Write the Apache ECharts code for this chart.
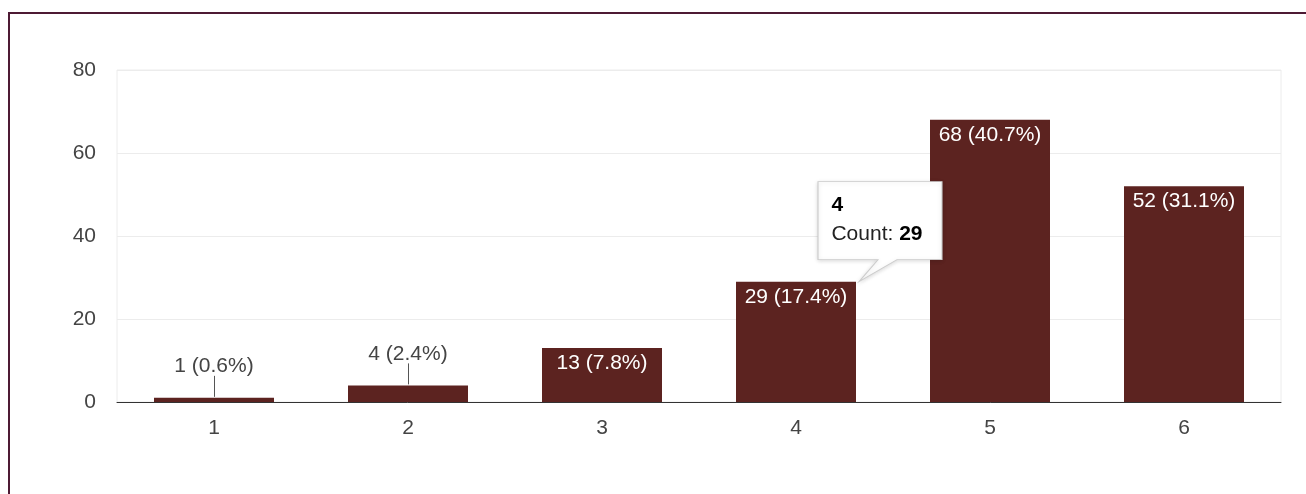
<!DOCTYPE html>
<html>
<head>
<meta charset="utf-8">
<script src="https://cdn.jsdelivr.net/npm/echarts@6/dist/echarts.min.js"></script>
<style>
  html, body { margin: 0; padding: 0; background: #fff; }
  #frame { position: absolute; left: 8px; top: 12px; width: 1298px; height: 482px;
           border-left: 2px solid #4d1a34; border-top: 2px solid #4d1a34; box-sizing: border-box; }
  #chart { position: absolute; left: 0; top: 0; width: 1306px; height: 494px; }
</style>
</head>
<body>
<div id="frame"></div>
<div id="chart"></div>
<script>
const categories = ['1', '2', '3', '4', '5', '6'];
const counts = [1, 4, 13, 29, 68, 52];
const yMin = 0;
const yMax = 80;
const yInterval = 20;
const outsideLabelCategories = ['1', '2'];
const tooltipCategory = '4';

const total = counts.reduce((a, b) => a + b, 0);
const FONT = "'Liberation Sans', Arial, sans-serif";
const BAR = '#5c2320';

const barData = counts.map((v, i) => {
  if (outsideLabelCategories.includes(categories[i])) {
    return { value: v, label: { position: 'top', color: '#444', distance: 21 } };
  }
  return v;
});
const leaderData = counts
  .map((v, i) => [i, v])
  .filter(d => outsideLabelCategories.includes(categories[d[0]]));
const tipIdx = categories.indexOf(tooltipCategory);

const chart = echarts.init(document.getElementById('chart'), null, { renderer: 'canvas' });
chart.setOption({
  animation: false,
  textStyle: { fontFamily: FONT },
  grid: { left: 117, right: 25, top: 70, bottom: 92, show: true, borderColor: '#ececec', borderWidth: 1 },
  xAxis: {
    type: 'category',
    data: categories,
    axisLine: { lineStyle: { color: '#333', width: 1 } },
    axisTick: { show: false },
    axisLabel: { color: '#444', fontSize: 21, fontFamily: FONT, margin: 16 }
  },
  yAxis: {
    type: 'value',
    min: yMin, max: yMax, interval: yInterval,
    axisLine: { show: false },
    axisTick: { show: false },
    splitLine: { lineStyle: { color: '#ececec', width: 1 } },
    axisLabel: { color: '#444', fontSize: 21, fontFamily: FONT, margin: 21 }
  },
  series: [
    {
      type: 'bar',
      data: barData,
      barWidth: 120,
      itemStyle: { color: BAR },
      label: {
        show: true,
        position: 'insideTop',
        distance: 5,
        color: '#fff',
        fontSize: 21,
        fontFamily: FONT,
        formatter: p => `${p.value} (${(p.value / total * 100).toFixed(1)}%)`
      },
      markPoint: {
        z: 20,
        symbol: 'path://M0,0 L124,0 L124,78 L79,78 L41,100 L60,78 L0,78 Z',
        symbolSize: [124, 100],
        symbolOffset: [84, -50],
        itemStyle: {
          color: '#fff', borderColor: '#cccccc', borderWidth: 1,
          shadowBlur: 4, shadowColor: 'rgba(0,0,0,0.15)', shadowOffsetY: 1
        },
        label: {
          show: true,
          position: [14, 10],
          align: 'left',
          verticalAlign: 'top',
          fontFamily: FONT,
          formatter: () => `{b|${categories[tipIdx]}}\n{n|Count: }{v|${counts[tipIdx]}}`,
          rich: {
            b: { fontSize: 21, fontWeight: 'bold', color: '#000', lineHeight: 29, fontFamily: FONT },
            n: { fontSize: 21, color: '#222', lineHeight: 29, fontFamily: FONT },
            v: { fontSize: 21, fontWeight: 'bold', color: '#000', lineHeight: 29, fontFamily: FONT }
          }
        },
        data: [{ coord: [tipIdx, counts[tipIdx]] }]
      }
    },
    {
      type: 'custom',
      data: leaderData,
      encode: { x: 0, y: 1 },
      z: 5,
      silent: true,
      renderItem: (params, api) => {
        const p = api.coord([api.value(0), api.value(1)]);
        return {
          type: 'line',
          shape: { x1: Math.round(p[0]) + 0.5, y1: p[1] - 1, x2: Math.round(p[0]) + 0.5, y2: p[1] - 22 },
          style: { stroke: '#555', lineWidth: 1 }
        };
      }
    }
  ]
});
</script>
</body>
</html>
